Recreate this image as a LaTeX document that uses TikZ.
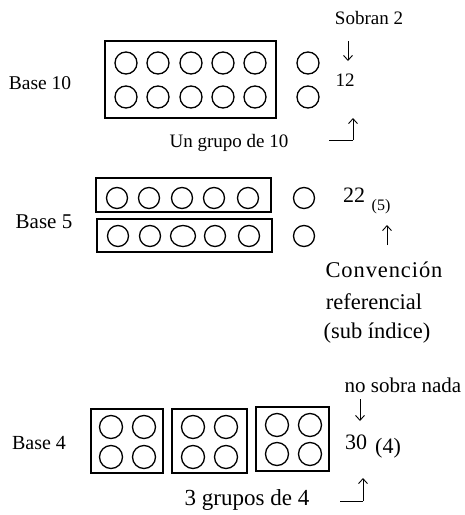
\documentclass[tikz,border=0pt]{standalone}
\usepackage{fontspec}
\setmainfont{Liberation Serif}
\usetikzlibrary{arrows.meta,shapes.geometric}
\newcommand{\fs}[1]{\fontsize{#1}{#1}\selectfont}
\begin{document}
\begin{tikzpicture}[x=1pt,y=-1pt,
  dot/.style={circle,draw,line width=1.3pt,minimum size=22pt,inner sep=0pt},
  grp/.style={draw,line width=1.3pt},
  lbl/.style={inner sep=0pt},
  arr/.style={line width=0.9pt,-{Straight Barb[length=5pt,width=9pt,line width=0.9pt]}},
  lline/.style={line width=0.9pt}]
\useasboundingbox (0,0) rectangle (465,515);

% ---------- Base 10 ----------
\draw[grp] (105,41) rectangle (276,118);
\foreach \x [count=\i] in {126,158,191,223,255} {
  \node[dot] (ta\i) at (\x,63) {};
  \node[dot] (tb\i) at (\x,97) {};
}
\node[dot] (tx1) at (308,63) {};
\node[dot] (tx2) at (308,97) {};
\node[lbl,font=\fs{19.5}] (base10) at (40,83) {Base 10};
\node[lbl,font=\fs{19}] (sobran) at (369,18) {Sobran 2};
\node[lbl,font=\fs{19}] (n12) at (345,80) {12};
\node[lbl,font=\fs{19}] (grupo10) at (229,143) {Un grupo de 10};
\coordinate (d1s) at (348,41);
\coordinate (d1e) at (348,61);
\draw[arr] (d1s) -- (d1e);
\coordinate (l1a) at (329,140);
\coordinate (l1b) at (353,140);
\coordinate (l1c) at (353,118);
\draw[lline] (l1a) -- (l1b);
\draw[arr] (l1b) -- (l1c);

% ---------- Base 5 ----------
\draw[grp] (96,178) rectangle (271,212);
\draw[grp] (97,219) rectangle (272,252);
\foreach \x [count=\i] in {117,149,182,214,248} {
  \node[dot,minimum size=21pt] (fa\i) at (\x,198) {};
}
\foreach \x [count=\i] in {118,150,215,249} {
  \node[dot,minimum size=21pt] (fb\i) at (\x,236) {};
}
\node[draw,line width=1.3pt,inner sep=0pt,ellipse,minimum width=25pt,minimum height=21pt] (fb5) at (183,236) {};
\node[dot,minimum size=21pt] (fx1) at (304,198) {};
\node[dot,minimum size=21pt] (fx2) at (304,236) {};
\node[lbl,font=\fs{21}] (base5) at (44,222) {Base 5};
\node[lbl,font=\fs{22}] (n22) at (354,195) {22};
\node[lbl,font=\fs{16}] (sub5) at (381,207) {(5)};
\coordinate (u2s) at (387,245);
\coordinate (u2e) at (387,225);
\draw[arr] (u2s) -- (u2e);
\node[lbl,font=\fs{22.5}\addfontfeatures{LetterSpace=4}] (conv) at (384,270) {Convención};
\node[lbl,font=\fs{22.5}] (refer) at (374,302) {referencial};
\node[lbl,font=\fs{22.5}] (subind) at (377,333) {(sub índice)};

% ---------- Base 4 ----------
\draw[grp] (91,409) rectangle (163,473);
\draw[grp] (172,409) rectangle (247,473);
\draw[grp] (256,407) rectangle (329,471);
\foreach \x/\y [count=\i] in {111/427,144/427,111/457,144/457,
                              193/427,226/427,193/457,226/457,
                              277/425,310/425,277/454,310/454} {
  \node[dot,minimum size=23pt] (q\i) at (\x,\y) {};
}
\node[lbl,font=\fs{20}] (base4) at (39,443) {Base 4};
\node[lbl,font=\fs{21}] (nosobra) at (403,385) {no sobra nada};
\node[lbl,font=\fs{22}] (n30) at (356,442) {30};
\node[lbl,font=\fs{22}] (sub4) at (388,448) {(4)};
\node[lbl,font=\fs{23}] (grupos4) at (247,500) {3 grupos de 4};
\coordinate (d3s) at (360,399);
\coordinate (d3e) at (360,421);
\draw[arr] (d3s) -- (d3e);
\coordinate (l3a) at (340,501);
\coordinate (l3b) at (363,501);
\coordinate (l3c) at (363,478);
\draw[lline] (l3a) -- (l3b);
\draw[arr] (l3b) -- (l3c);
\end{tikzpicture}
\end{document}
